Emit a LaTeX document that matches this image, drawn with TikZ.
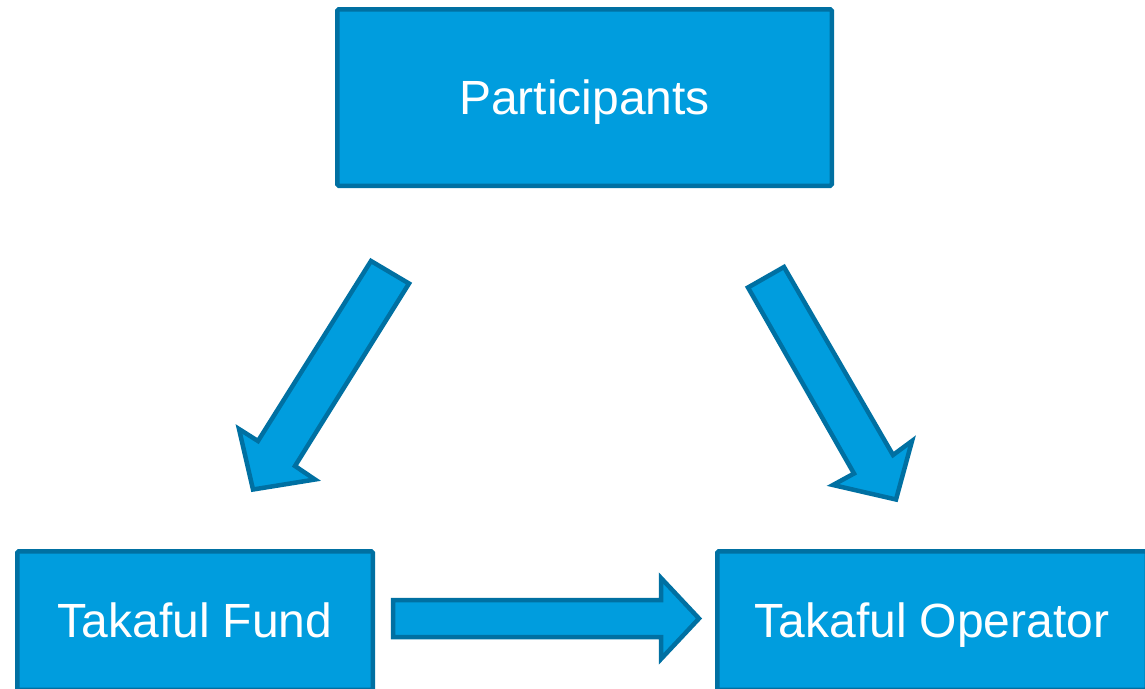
\documentclass[tikz,border=0pt]{standalone}
\usepackage{fontspec}
\setmainfont{Liberation Sans}
\definecolor{boxfill}{RGB}{0,157,222}
\definecolor{boxline}{RGB}{0,112,162}
\begin{document}
\begin{tikzpicture}[x=1pt,y=-1pt,
  box/.style={draw=boxline,fill=boxfill,line width=4.5pt,rounded corners=1.5pt,
    text=white,font=\fontsize{48}{56}\selectfont,inner sep=0pt,
    text height=34.4pt,text depth=0pt},
  blockarrow/.style={draw=boxline,fill=boxfill,line width=4.5pt,line join=miter}]
\useasboundingbox (0,0) rectangle (1145,688);
\node[box,minimum width=494.5pt,minimum height=176.5pt] (part) at (584.5,97.5) {Participants};
\node[box,minimum width=355.5pt,minimum height=138.5pt] (fund) at (195,620.5) {Takaful Fund};
\node[box,minimum width=429.5pt,minimum height=138.5pt] (oper) at (932,620.5) {Takaful Operator};
% block arrows
\draw[blockarrow] (393,600) -- (661,600) -- (661,578) -- (699,618.5) -- (661,659) -- (661,637) -- (393,637) -- cycle;
\draw[blockarrow] (371,261) -- (409,283.5) -- (295,466) -- (315,479.5) -- (253,489.5) -- (239,429) -- (258,441) -- cycle;
\draw[blockarrow] (748,287.5) -- (784,267) -- (893,455) -- (912,441) -- (896,499.5) -- (833,485) -- (854,473.5) -- cycle;
\end{tikzpicture}
\end{document}
